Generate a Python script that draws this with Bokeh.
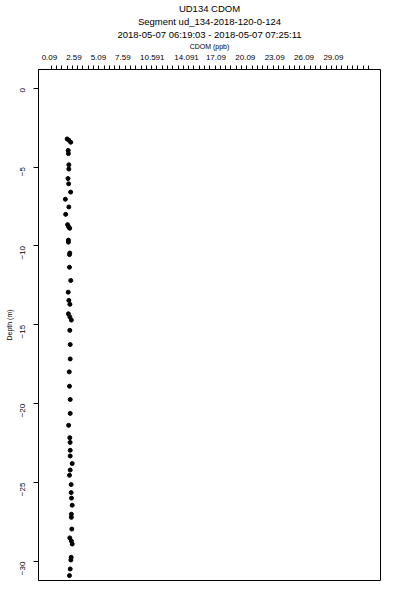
import math
import json
from bokeh.plotting import figure
from bokeh.models import (Range1d, LinearAxis, FixedTicker, Title, CustomJSTickFormatter)
from bokeh.embed import file_html
from bokeh.resources import INLINE

# ---- data ----
depth_m = [-3.22, -3.30, -3.43, -3.95, -4.15, -4.86, -5.13, -5.73, -6.06, -6.59,
           -7.04, -7.53, -8.00, -8.65, -8.78, -8.88, -9.63, -9.76, -10.45, -10.55,
           -11.35, -12.19, -12.93, -13.45, -13.70, -14.30, -14.50, -14.70, -15.35, -16.25,
           -17.16, -17.98, -18.89, -19.73, -20.61, -21.37, -22.15, -22.45, -22.95, -23.31,
           -23.79, -24.20, -24.53, -25.12, -25.63, -25.98, -26.43, -27.00, -27.20, -27.94,
           -28.50, -28.70, -28.89, -29.73, -29.90, -30.47, -30.89]
cdom_ppb = [1.60, 1.76, 1.94, 1.70, 1.72, 1.76, 1.76, 1.68, 1.74, 1.93,
            1.43, 1.76, 1.46, 1.64, 1.74, 1.84, 1.72, 1.72, 1.85, 1.82,
            1.82, 1.94, 1.70, 1.76, 1.86, 1.72, 1.86, 2.00, 1.85, 1.89,
            1.89, 1.80, 1.82, 1.89, 1.89, 1.74, 1.85, 1.88, 1.89, 1.89,
            2.08, 1.89, 1.82, 1.98, 1.98, 2.01, 2.08, 2.00, 2.00, 2.04,
            1.85, 2.00, 2.08, 1.98, 1.95, 1.89, 1.82]

x_label_values = [0.09, 2.59, 5.09, 7.59, 10.591, 14.091, 17.09, 20.09, 23.09, 26.09, 29.09]
x_label_texts = ["0.09", "2.59", "5.09", "7.59", "10.591", "14.091", "17.09", "20.09", "23.09", "26.09", "29.09"]
x_minor_start = 0.09
x_minor_step = 0.5
x_minor_count = 61
y_tick_values = [0, -5, -10, -15, -20, -25, -30]

title_lines = ["UD134 CDOM", "Segment ud_134-2018-120-0-124",
               "2018-05-07 06:19:03 - 2018-05-07 07:25:11"]
x_title = "CDOM (ppb)"
y_title = "Depth (m)"

FONT = "Liberation Sans"

p = figure(width=400, height=600, output_backend="svg", toolbar_location=None,
           x_range=Range1d(-1.11, 31.24), y_range=Range1d(-31.2, 1.18),
           x_axis_location=None, y_axis_location=None,
           min_border_left=38, min_border_right=20, min_border_top=67, min_border_bottom=20)
p.grid.visible = False
p.outline_line_color = "black"
p.outline_line_width = 1
p.background_fill_color = "white"
p.border_fill_color = "white"

p.extra_x_ranges = {"lab": Range1d(-1.03, 33.9)}

# left axis
yax = LinearAxis(ticker=FixedTicker(ticks=y_tick_values), axis_label=y_title,
                 axis_label_text_font=FONT, axis_label_text_font_size="7px",
                 axis_label_text_font_style="normal", axis_label_text_color="black",
                 axis_label_standoff=2,
                 major_label_text_font=FONT, major_label_text_font_size="8px",
                 major_label_text_color="black",
                 major_label_orientation=math.pi / 2, major_label_standoff=11,
                 major_tick_out=5, major_tick_in=0, minor_tick_out=0, minor_tick_in=0,
                 axis_line_color="black", major_tick_line_color="black")
p.add_layout(yax, "left")

# top tick axis (minor ticks)
ticks = [x_minor_start + x_minor_step * i for i in range(x_minor_count)]
tax = LinearAxis(ticker=FixedTicker(ticks=ticks),
                 formatter=CustomJSTickFormatter(code="return ''"),
                 major_label_text_font_size="0px", major_label_standoff=0,
                 major_tick_out=4, major_tick_in=0, minor_tick_out=0, minor_tick_in=0,
                 axis_line_color="black", major_tick_line_color="black")
p.add_layout(tax, "above")

# top label axis
labs = json.dumps(x_label_texts)
lax = LinearAxis(x_range_name="lab", ticker=FixedTicker(ticks=x_label_values),
                 formatter=CustomJSTickFormatter(code="const L = %s; return L[index];" % labs),
                 major_label_text_font=FONT, major_label_text_font_size="8px",
                 major_label_text_color="black",
                 major_label_standoff=6,
                 major_tick_out=0, major_tick_in=0, minor_tick_out=0, minor_tick_in=0,
                 axis_line_color=None, major_tick_line_color=None,
                 axis_label=x_title, axis_label_text_font=FONT,
                 axis_label_text_font_size="7px", axis_label_text_font_style="normal",
                 axis_label_text_color="black", axis_label_standoff=2)
p.add_layout(lax, "above")

for line in reversed(title_lines):
    p.add_layout(Title(text=line, align="center", text_font=FONT,
                       text_font_size="9.5px", text_font_style="normal",
                       text_line_height=1.0,
                       text_color="black", standoff=0, offset=0), "above")

p.scatter(cdom_ppb, depth_m, marker="circle", size=4, color="black")

open("out.html", "w").write(file_html(p, INLINE))
